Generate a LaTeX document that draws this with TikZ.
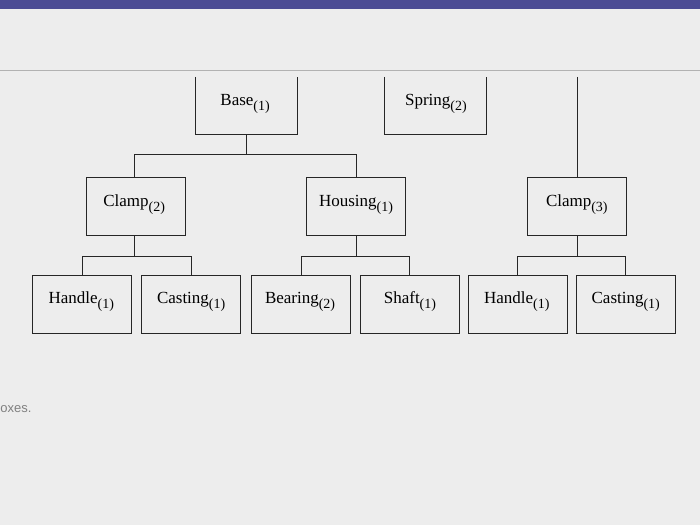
\documentclass[tikz,border=0pt]{standalone}
\usepackage{fontspec}
\setmainfont{Liberation Serif}
\newfontfamily\sansf{Liberation Sans}
\newcommand{\sbx}[1]{\raisebox{-4.5pt}{\fontsize{14}{16}\selectfont(#1)}}
\begin{document}
\begin{tikzpicture}[x=1pt,y=-1pt,
  box/.style={draw=black!85,line width=1pt,minimum width=99pt,minimum height=58pt,inner sep=0pt,anchor=center,font=\fontsize{17}{19}\selectfont},
  lbl/.style={inner sep=0pt,font=\fontsize{17}{19}\selectfont},
  lnk/.style={draw=black!85,line width=1pt}]
\fill[black!7] (0,0) rectangle (700,525);
\fill[blue!40!black!70] (0,0) rectangle (700,9);
\draw[black!30,line width=0.6pt] (0,70) -- (700,70);
\draw[lnk] (195,77) -- (195,135) -- (297,135) -- (297,77);
\node[lbl] (base) at (245,104) {Base\sbx{1}};
\draw[lnk] (385,77) -- (385,135) -- (487,135) -- (487,77);
\node[lbl] (spring) at (436,104) {Spring\sbx{2}};
\coordinate (bb) at (246,135);
\coordinate (topc) at (578,77);
\node[box] (c2) at (136,207) {};
\node[lbl] at (134,205) {Clamp\sbx{2}};
\node[box] (ho) at (356,207) {};
\node[lbl] at (356,205) {Housing\sbx{1}};
\node[box] (c3) at (577,207) {};
\node[lbl] at (577,205) {Clamp\sbx{3}};
\node[box] (h1) at (82,305) {};
\node[lbl] at (81,302) {Handle\sbx{1}};
\node[box] (ca1) at (191,305) {};
\node[lbl] at (191,302) {Casting\sbx{1}};
\node[box] (be) at (301,305) {};
\node[lbl] at (300,302) {Bearing\sbx{2}};
\node[box] (sh) at (410,305) {};
\node[lbl] at (410,302) {Shaft\sbx{1}};
\node[box] (h2) at (518,305) {};
\node[lbl] at (517,302) {Handle\sbx{1}};
\node[box] (ca2) at (626,305) {};
\node[lbl] at (626,302) {Casting\sbx{1}};
\draw[lnk] (bb) |- (134,155) -- (c2.north -| 134,0);
\draw[lnk] (bb) |- (356,155) -- (ho.north);
\draw[lnk] (topc) -- (c3.north -| topc);
\draw[lnk] (c2.south -| 134,0) -- (134,257) -| (h1.north);
\draw[lnk] (134,257) -| (ca1.north);
\draw[lnk] (ho.south) -- (356,257) -| (be.north);
\draw[lnk] (356,257) -| (sh.north);
\draw[lnk] (c3.south -| topc) -- (578,257) -| (h2.north);
\draw[lnk] (578,257) -| (ca2.north);
\node[anchor=west,inner sep=0pt,text=black!50,font=\sansf\fontsize{13}{15}\selectfont] (ox) at (0,409) {oxes.};
\end{tikzpicture}
\end{document}
